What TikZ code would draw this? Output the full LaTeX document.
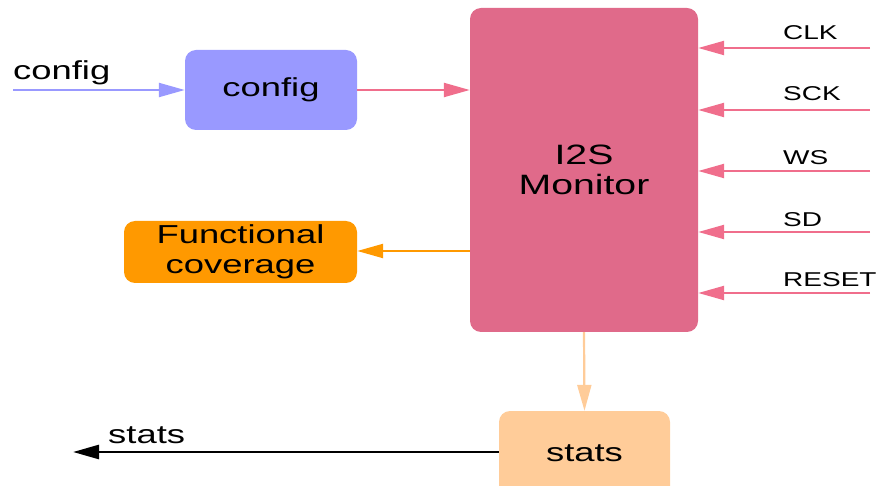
\documentclass[tikz,border=0pt]{standalone}
\usepackage[usenames,dvipsnames]{xcolor}
\usepackage{fontspec}
\setmainfont{Liberation Sans}
\newfontfamily\blockfont[FakeStretch=1.4]{Liberation Sans}
\usepackage{tikz}
\usetikzlibrary{arrows.meta}

\begin{document}
\begin{tikzpicture}[x=1pt,y=-1pt]
\useasboundingbox (0,0) rectangle (881,486);
\clip (0,0) rectangle (881,486);
\definecolor{monColor}{RGB}{224,106,138}
\definecolor{sigColor}{RGB}{240,110,140}
\definecolor{cfgColor}{RGB}{153,153,255}
\definecolor{covColor}{RGB}{255,153,0}
\definecolor{statColor}{RGB}{255,204,153}
\tikzset{blk/.style={rounded corners=11pt, inner sep=0pt, font=\blockfont\fontsize{26}{30}\selectfont},
  lbl/.style={inner sep=0pt, anchor=base west, font=\blockfont\fontsize{26}{30}\selectfont},
  sig/.style={inner sep=0pt, anchor=base west, font=\blockfont\fontsize{20}{24}\selectfont},
  wire/.style={line width=2.2pt, -{Triangle[length=26pt,width=14pt]}}}

% blocks
\node[blk, align=center, fill=monColor, minimum width=228, minimum height=324, font=\blockfont\fontsize{28}{30}\selectfont] (monitor) at (584,170) {I2S\\Monitor};
\node[blk, fill=cfgColor, minimum width=172, minimum height=80] (config) at (271,90) {config};
\node[blk, align=center, fill=covColor, minimum width=233, minimum height=62] (coverage) at (240.5,252) {Functional\\coverage};
\node[blk, fill=statColor, minimum width=171, minimum height=96, text depth=0pt] (stats) at (584.5,459) {\raisebox{12pt}{stats}};

% config in, stats out
\coordinate (cfgin) at (13,90);
\node[lbl] (cfglbl) at (13,80) {config};
\draw[wire, color=cfgColor] (cfgin) -- (config.west);
\coordinate (statout) at (73,452);
\node[lbl] (statlbl) at (108,443) {stats};
\draw[wire, color=black, line width=2.5pt] (stats.west |- statout) -- (statout);

% block to block
\draw[wire, color=sigColor] (config.east) -- (config.east -| monitor.west);
\draw[wire, color=covColor] (monitor.west |- 0,251) -- (coverage.east |- 0,251);
\draw[wire, color=statColor] (monitor.south) -- (stats.north);

% interface signals
\foreach \name/\txt/\y/\base in {clk/CLK/48/40, sck/SCK/110/101, ws/WS/171/165, sd/SD/232/227, rst/RESET/293/287}
{
  \coordinate (\name) at (870,\y);
  \node[sig] (\name lbl) at (783,\base) {\txt};
  \draw[wire, color=sigColor] (\name) -- (\name -| monitor.east);
}
\end{tikzpicture}
\end{document}
